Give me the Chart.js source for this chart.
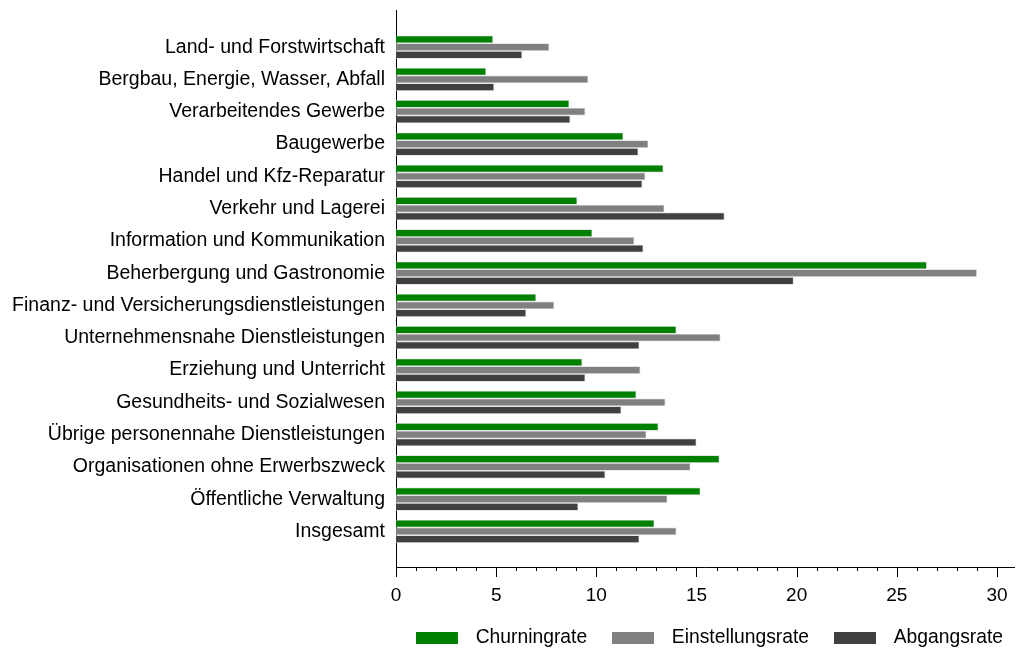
<!DOCTYPE html>
<html lang="de">
<head>
<meta charset="utf-8">
<title>Churning-, Einstellungs- und Abgangsraten nach Branchen</title>
<script src="https://cdn.jsdelivr.net/npm/chart.js@4.4.1/dist/chart.umd.min.js"></script>
<style>
  html, body { margin: 0; padding: 0; background: #fff; }
  #wrap { width: 1016px; height: 649px; position: relative; }
</style>
</head>
<body>
<div id="wrap"><canvas id="chart"></canvas></div>
<script>
// Branchen (von oben nach unten)
const categories = [
  "Land- und Forstwirtschaft",
  "Bergbau, Energie, Wasser, Abfall",
  "Verarbeitendes Gewerbe",
  "Baugewerbe",
  "Handel und Kfz-Reparatur",
  "Verkehr und Lagerei",
  "Information und Kommunikation",
  "Beherbergung und Gastronomie",
  "Finanz- und Versicherungsdienstleistungen",
  "Unternehmensnahe Dienstleistungen",
  "Erziehung und Unterricht",
  "Gesundheits- und Sozialwesen",
  "Übrige personennahe Dienstleistungen",
  "Organisationen ohne Erwerbszweck",
  "Öffentliche Verwaltung",
  "Insgesamt",
];

const churningrate = [4.85, 4.5, 8.65, 11.35, 13.35, 9.05, 9.8, 26.5, 7.0, 14.0, 9.3, 12.0, 13.1, 16.15, 15.2, 12.9];
const einstellungsrate = [7.65, 9.6, 9.45, 12.6, 12.45, 13.4, 11.9, 29.0, 7.9, 16.2, 12.2, 13.45, 12.5, 14.7, 13.55, 14.0];
const abgangsrate = [6.3, 4.9, 8.7, 12.1, 12.3, 16.4, 12.35, 19.85, 6.5, 12.15, 9.45, 11.25, 15.0, 10.45, 9.1, 12.15];

const xTickLabels = [0, 5, 10, 15, 20, 25, 30];

const colors = ["#008000", "#808080", "#404040"];

const FONT = "'Liberation Sans', Arial, Helvetica, sans-serif";

function toPoints(values) {
  return values.map((v, i) => ({ x: v, y: i }));
}

// legend swatch, drawn as a point style so the gap to the text can be wider
function swatch(color) {
  const c = document.createElement("canvas");
  c.width = 42;
  c.height = 12;
  const g = c.getContext("2d");
  g.fillStyle = color;
  g.fillRect(0, 0, 42, 12);
  return c;
}
const swatches = colors.map(swatch);

// short marks at every integer, long ones every 5
const tickMarks = {
  id: "tickMarks",
  afterDraw(chart) {
    const xs = chart.scales.x;
    const ctx = chart.ctx;
    const y0 = chart.chartArea.bottom;
    ctx.save();
    ctx.strokeStyle = "#000";
    ctx.lineWidth = 1;
    for (let v = 0; v <= 30; v++) {
      const px = Math.round(xs.getPixelForValue(v)) + 0.5;
      const len = v % 5 === 0 ? 10 : 4;
      ctx.beginPath();
      ctx.moveTo(px, y0);
      ctx.lineTo(px, y0 + len);
      ctx.stroke();
    }
    ctx.restore();
  },
};

// nudge legend a little to the right
const legendShift = {
  id: "legendShift",
  afterLayout(chart) {
    chart.legend.left += 6;
    chart.legend.right += 6;
  },
};

new Chart(document.getElementById("chart").getContext("2d"), {
  type: "bar",
  data: {
    datasets: [
      {
        label: "Churningrate",
        data: toPoints(churningrate),
        backgroundColor: colors[0],
      },
      {
        label: "Einstellungsrate",
        data: toPoints(einstellungsrate),
        backgroundColor: colors[1],
      },
      {
        label: "Abgangsrate",
        data: toPoints(abgangsrate),
        backgroundColor: colors[2],
      },
    ],
  },
  options: {
    indexAxis: "y",
    responsive: true,
    maintainAspectRatio: false,
    animation: false,
    layout: {
      padding: { top: 10, right: 2, bottom: -8.65, left: 0 },
    },
    datasets: {
      bar: {
        categoryPercentage: 0.72,
        barPercentage: 1.0,
        borderColor: "#d4d4d4",
        borderWidth: 0.75,
      },
    },
    scales: {
      x: {
        type: "linear",
        min: 0,
        max: 30.85,
        afterBuildTicks: (scale) => {
          scale.ticks = xTickLabels.map((v) => ({ value: v }));
        },
        afterFit: (scale) => {
          scale.height = 44.35;
          scale.paddingLeft = 0;
          scale.paddingRight = 0;
        },
        grid: { display: false, drawTicks: false },
        border: { display: true, color: "#000", width: 1 },
        ticks: {
          color: "#000",
          padding: 17.5,
          maxRotation: 0,
          autoSkip: false,
          font: { family: FONT, size: 19 },
        },
      },
      y: {
        type: "linear",
        reverse: true,
        offset: false,
        min: -1.15,
        max: 16.1,
        afterBuildTicks: (scale) => {
          scale.ticks = categories.map((_, i) => ({ value: i }));
        },
        afterFit: (scale) => {
          scale.width = 396;
          scale.paddingTop = 0;
          scale.paddingBottom = 0;
        },
        grid: { display: false, drawTicks: false },
        border: { display: true, color: "#000", width: 1 },
        ticks: {
          color: "#000",
          padding: 11,
          autoSkip: false,
          font: { family: FONT, size: 19.5 },
          callback: (value) => categories[value] ?? "",
        },
      },
    },
    plugins: {
      legend: {
        position: "bottom",
        align: "end",
        labels: {
          color: "#000",
          usePointStyle: true,
          pointStyleWidth: 58,
          boxHeight: 12,
          padding: 17,
          font: { family: FONT, size: 19.3 },
          generateLabels: (chart) =>
            Chart.defaults.plugins.legend.labels
              .generateLabels(chart)
              .map((item, i) => ({ ...item, pointStyle: swatches[i], lineWidth: 0 })),
        },
      },
      tooltip: { enabled: false },
    },
  },
  plugins: [tickMarks, legendShift],
});
</script>
</body>
</html>
